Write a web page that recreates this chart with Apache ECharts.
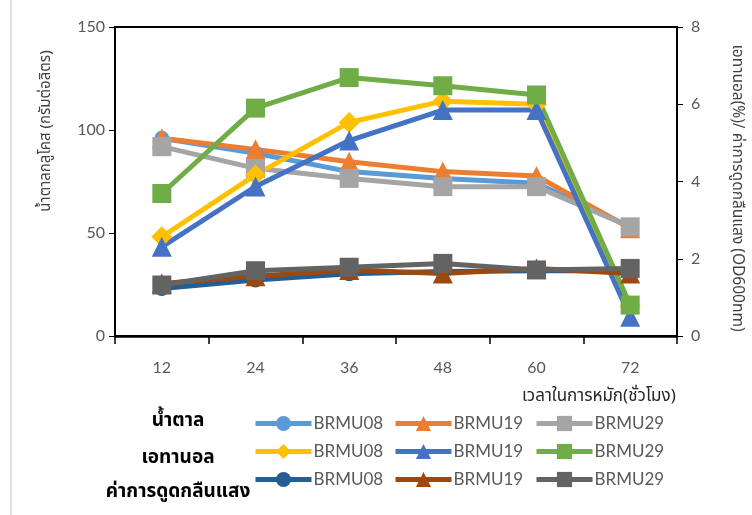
<!DOCTYPE html>
<html>
<head>
<meta charset="utf-8">
<script src="https://cdn.jsdelivr.net/npm/echarts@6/dist/echarts.min.js"></script>
<style>
  html, body { margin: 0; padding: 0; background: #fff; }
  #chart { width: 752px; height: 515px; }
</style>
</head>
<body>
<div id="chart"></div>
<script>
// time points (hours)
const hours = ['12', '24', '36', '48', '60', '72'];
const strains = ['BRMU08', 'BRMU19', 'BRMU29'];

// sugar, g/L (left axis)
const sugar08 = [96, 88.7, 79.8, 76.5, 74.1, 53];
const sugar19 = [96, 90.6, 84.6, 79.8, 77.7, 52.3];
const sugar29 = [91.9, 81.4, 76.5, 72.5, 72.5, 53];

// ethanol, % (right axis)
const eth08 = [2.57, 4.17, 5.53, 6.08, 6.0, 0.78];
const eth19 = [2.31, 3.87, 5.06, 5.85, 5.85, 0.5];
const eth29 = [3.69, 5.9, 6.69, 6.48, 6.24, 0.8];

// absorbance OD600 (right axis)
const od08 = [1.23, 1.45, 1.61, 1.67, 1.69, 1.69];
const od19 = [1.36, 1.55, 1.71, 1.62, 1.75, 1.62];
const od29 = [1.32, 1.69, 1.78, 1.88, 1.71, 1.75];

const rowLabels = ['น้ำตาล', 'เอทานอล', 'ค่าการดูดกลืนแสง'];

const thai = '"Noto Sans Thai", "Noto Sans", Tahoma, sans-serif';
const numFont = 'Lato, "Noto Sans", sans-serif';

function mk(group, strain, data, axis, color, symbol, size) {
    return {
        name: group + ' ' + strain,
        type: 'line',
        yAxisIndex: axis,
        data: data,
        symbol: symbol,
        symbolSize: size,
        lineStyle: { color: color, width: 5 },
        itemStyle: { color: color },
        z: 2
    };
}

const series = [
    mk('sugar', 'BRMU08', sugar08, 0, '#5B9BD5', 'circle', 15),
    mk('sugar', 'BRMU19', sugar19, 0, '#ED7D31', 'triangle', 20),
    mk('sugar', 'BRMU29', sugar29, 0, '#A5A5A5', 'rect', 19),
    mk('eth', 'BRMU08', eth08, 1, '#FFC000', 'diamond', 21),
    mk('eth', 'BRMU19', eth19, 1, '#4472C4', 'triangle', 20),
    mk('eth', 'BRMU29', eth29, 1, '#70AD47', 'rect', 19),
    mk('od', 'BRMU08', od08, 1, '#255E91', 'circle', 15),
    mk('od', 'BRMU19', od19, 1, '#9E480E', 'triangle', 20),
    mk('od', 'BRMU29', od29, 1, '#636363', 'rect', 19)
];

const colX = [248, 388, 529];
const groups = ['sugar', 'eth', 'od'];
const legends = strains.map(function (s, i) {
    return {
        orient: 'vertical',
        left: colX[i],
        top: 410,
        itemWidth: 56,
        itemHeight: 19,
        itemGap: 11,
        selectedMode: false,
        lineStyle: { width: 5 },
        data: groups.map(g => g + ' ' + s),
        formatter: function (n) { return n.split(' ')[1]; },
        textStyle: { fontFamily: numFont, fontSize: 17, color: '#595959', padding: [0, 0, 0, -3] }
    };
});

const chart = echarts.init(document.getElementById('chart'));
chart.setOption({
    animation: false,
    backgroundColor: '#fff',
    grid: {
        left: 115, right: 75, top: 27, bottom: 179,
        show: true, borderColor: '#000', borderWidth: 2
    },
    legend: legends,
    xAxis: {
        type: 'category',
        data: hours,
        boundaryGap: true,
        axisLine: { lineStyle: { color: '#000', width: 2.5 } },
        axisTick: { show: true, length: 8, lineStyle: { color: '#000', width: 1.5 } },
        axisLabel: { margin: 24, color: '#595959', fontFamily: numFont, fontSize: 16 }
    },
    yAxis: [{
        type: 'value', min: 0, max: 150, interval: 50,
        axisLine: { show: true, lineStyle: { color: '#000', width: 2 } },
        axisTick: { show: true, length: 6, lineStyle: { color: '#000' } },
        splitLine: { show: false },
        axisLabel: { margin: 10, color: '#595959', fontFamily: numFont, fontSize: 16 }
    }, {
        type: 'value', min: 0, max: 8, interval: 2,
        axisLine: { show: true, lineStyle: { color: '#000', width: 2 } },
        axisTick: { show: true, length: 6, lineStyle: { color: '#000' } },
        splitLine: { show: false },
        axisLabel: { margin: 14, color: '#595959', fontFamily: numFont, fontSize: 16 }
    }],
    graphic: [
        { type: 'line', shape: { x1: 11, y1: 0, x2: 11, y2: 515 }, style: { stroke: '#d9d9d9', lineWidth: 1.5 } },
        {
            type: 'text', x: 47, y: 131, rotation: Math.PI / 2,
            style: { text: 'น้ำตาลกลูโคส (กรัมต่อลิตร)', fill: '#404040', font: '15px ' + thai, textAlign: 'center', textVerticalAlign: 'middle' }
        },
        {
            type: 'text', x: 736, y: 188, rotation: -Math.PI / 2,
            style: { text: 'เอทานอล(%)/ ค่าการดูดกลืนแสง (OD600nm)', fill: '#404040', font: '15.5px ' + thai, textAlign: 'center', textVerticalAlign: 'middle' }
        },
        {
            type: 'text', x: 522, y: 398,
            style: { text: 'เวลาในการหมัก(ชั่วโมง)', fill: '#262626', font: '17px ' + thai, textAlign: 'left', textVerticalAlign: 'middle' }
        },
        {
            type: 'text', x: 178, y: 422,
            style: { text: rowLabels[0], fill: '#000', font: 'bold 19px ' + thai, textAlign: 'center', textVerticalAlign: 'middle' }
        },
        {
            type: 'text', x: 178, y: 459,
            style: { text: rowLabels[1], fill: '#000', font: 'bold 19px ' + thai, textAlign: 'center', textVerticalAlign: 'middle' }
        },
        {
            type: 'text', x: 178, y: 493,
            style: { text: rowLabels[2], fill: '#000', font: 'bold 19px ' + thai, textAlign: 'center', textVerticalAlign: 'middle' }
        }
    ],
    series: series
});
</script>
</body>
</html>
